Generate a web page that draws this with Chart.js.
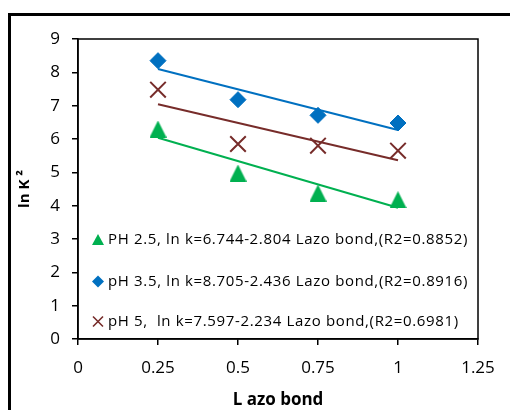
<!DOCTYPE html>
<html>
<head>
<meta charset="utf-8">
<script src="https://cdn.jsdelivr.net/npm/chart.js@4"></script>
<style>
  html, body { margin: 0; padding: 0; background: #fff; overflow: hidden; }
  #frame { position: absolute; left: 8px; top: 13px; width: 600px; height: 500px; border: 3px solid #000; }
  #wrap { position: absolute; left: 0; top: 0; width: 510px; height: 410px; }
</style>
</head>
<body>
<div id="frame"></div>
<div id="wrap"><canvas id="c" width="510" height="410"></canvas></div>
<script>
// ---- data ----
const xValues = [0.25, 0.5, 0.75, 1];
const ph25 = [6.30, 4.98, 4.38, 4.18];
const ph35 = [8.35, 7.18, 6.71, 6.48];
const ph5  = [7.48, 5.85, 5.80, 5.65];
const trendX = [0.25, 1];
const trend25 = [6.04, 3.94];
const trend35 = [8.10, 6.27];
const trend5  = [7.04, 5.36];
const seriesLabels = [
  'PH 2.5, ln k=6.744-2.804 Lazo bond,(R2=0.8852)',
  'pH 3.5, ln k=8.705-2.436 Lazo bond,(R2=0.8916)',
  'pH 5,  ln k=7.597-2.234 Lazo bond,(R2=0.6981)'
];
const xTicks = [0, 0.25, 0.5, 0.75, 1, 1.25];
const xTickLabels = ['0', '0.25', '0.5', '0.75', '1', '1.25'];
const yTicks = [0, 1, 2, 3, 4, 5, 6, 7, 8, 9];
const xTitle = 'L azo bond';
const yTitle = 'ln K \u00B2';

const GREEN = '#00B050', BLUE = '#0070C0', BROWN = '#772C2A';
const FONT = "'Open Sans', 'Liberation Sans', sans-serif";

function pts(xs, ys) { return xs.map((x, i) => ({ x: x, y: ys[i] })); }

function makeTri(w, h, color) {
  const c = document.createElement('canvas');
  c.width = w; c.height = h;
  const g = c.getContext('2d');
  g.fillStyle = color;
  g.beginPath();
  g.moveTo(w / 2, 0);
  g.lineTo(w, h);
  g.lineTo(0, h);
  g.closePath();
  g.fill();
  return c;
}
const triBig = makeTri(17, 17, GREEN);
const triSmall = makeTri(12, 11, GREEN);

const frameBox = {
  id: 'frameBox',
  afterDraw(chart) {
    const a = chart.chartArea, ctx = chart.ctx;
    ctx.save();
    ctx.strokeStyle = '#000';
    ctx.lineWidth = 1.5;
    ctx.strokeRect(a.left, a.top, a.right - a.left, a.bottom - a.top);
    ctx.restore();
  }
};

const insideLegend = {
  id: 'insideLegend',
  afterDraw(chart) {
    const a = chart.chartArea, ctx = chart.ctx;
    const rows = [201, 242.5, 282.5];
    const order = [0, 1, 2];
    ctx.save();
    ctx.font = '15px ' + FONT;
    if ('letterSpacing' in ctx) ctx.letterSpacing = '0.65px';
    ctx.textBaseline = 'middle';
    ctx.fillStyle = '#000';
    order.forEach((di, k) => {
      const ds = chart.data.datasets[di];
      const y = a.top + rows[k];
      const mx = a.left + 20;
      if (di === 0) {
        ctx.drawImage(triSmall, mx - 6, y - 6);
      } else if (di === 1) {
        ctx.fillStyle = BLUE;
        ctx.beginPath();
        ctx.moveTo(mx - 6, y); ctx.lineTo(mx, y - 6); ctx.lineTo(mx + 6, y); ctx.lineTo(mx, y + 6);
        ctx.closePath(); ctx.fill();
      } else {
        ctx.strokeStyle = BROWN; ctx.lineWidth = 1.6;
        ctx.beginPath();
        ctx.moveTo(mx - 5, y - 5); ctx.lineTo(mx + 5, y + 5);
        ctx.moveTo(mx + 5, y - 5); ctx.lineTo(mx - 5, y + 5);
        ctx.stroke();
      }
      ctx.fillStyle = '#000';
      ctx.fillText(ds.label, a.left + 30, y);
    });
    ctx.restore();
  }
};

new Chart(document.getElementById('c'), {
  type: 'scatter',
  data: {
    datasets: [
      { label: seriesLabels[0], data: pts(xValues, ph25), pointStyle: triBig, pointRadius: 9,
        backgroundColor: GREEN, borderColor: GREEN, order: 0 },
      { label: seriesLabels[1], data: pts(xValues, ph35), pointStyle: 'rectRot', pointRadius: 8,
        backgroundColor: BLUE, borderColor: BLUE, borderWidth: 1, order: 0 },
      { label: seriesLabels[2], data: pts(xValues, ph5), pointStyle: 'crossRot', pointRadius: 11,
        backgroundColor: BROWN, borderColor: BROWN, borderWidth: 2, order: 0 },
      { label: '', data: pts(trendX, trend25), showLine: true, pointRadius: 0, borderColor: GREEN, borderWidth: 2, order: 1 },
      { label: '', data: pts(trendX, trend35), showLine: true, pointRadius: 0, borderColor: BLUE, borderWidth: 2, order: 1 },
      { label: '', data: pts(trendX, trend5), showLine: true, pointRadius: 0, borderColor: BROWN, borderWidth: 2, order: 1 }
    ]
  },
  options: {
    responsive: false,
    animation: false,
    events: [],
    layout: { padding: { left: 14, top: 39, right: 32, bottom: 0 } },
    plugins: { legend: { display: false }, tooltip: { enabled: false } },
    scales: {
      x: {
        type: 'linear', min: xTicks[0], max: xTicks[xTicks.length - 1],
        afterBuildTicks(s) { s.ticks = xTicks.map(v => ({ value: v })); },
        afterFit(s) { s.height = 71; },
        grid: { drawOnChartArea: false, drawTicks: true, tickLength: 6, color: '#000', lineWidth: 1.5 },
        border: { color: '#000', width: 1.5 },
        ticks: { color: '#000', font: { family: FONT, size: 17 }, padding: 13, maxRotation: 0,
          callback: (v) => xTickLabels[xTicks.indexOf(v)] },
        title: { display: true, text: xTitle, color: '#000', font: { family: FONT, size: 17, weight: 'bold' }, padding: { top: 0, bottom: 0 } }
      },
      y: {
        type: 'linear', min: yTicks[0], max: yTicks[yTicks.length - 1],
        afterBuildTicks(s) { s.ticks = yTicks.map(v => ({ value: v })); },
        afterFit(s) { s.width = 64; },
        grid: { drawOnChartArea: false, drawTicks: true, tickLength: 6, color: '#000', lineWidth: 1.5 },
        border: { color: '#000', width: 1.5 },
        ticks: { color: '#000', font: { family: FONT, size: 17 }, padding: 12 },
        title: { display: true, text: yTitle, color: '#000', font: { family: FONT, size: 15, weight: 'bold' }, padding: { top: 2, bottom: 4 } }
      }
    }
  },
  plugins: [frameBox, insideLegend]
});
</script>
</body>
</html>
